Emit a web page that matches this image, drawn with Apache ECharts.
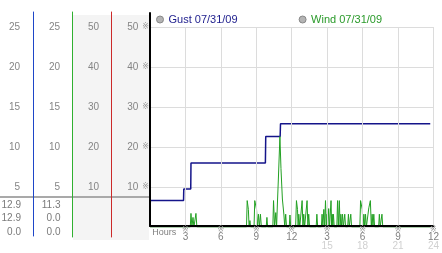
<!DOCTYPE html>
<html><head><meta charset="utf-8">
<script src="https://cdn.jsdelivr.net/npm/echarts/dist/echarts.min.js"></script>
<style>html,body{margin:0;padding:0;background:#fff}#c{width:442px;height:253px}</style>
</head><body><div id="c"></div>
<script>
// ---- data ----
const seriesNames = ['Gust 07/31/09', 'Wind 07/31/09'];
// [hour, value]
const gust = [
  [0, 1.8], [0.03, 3.3], [2.84, 3.3], [2.86, 4.75], [3.45, 4.75], [3.47, 8.0],
  [9.77, 8.0], [9.8, 11.3], [11.02, 11.3], [11.05, 12.9], [23.73, 12.9]
];
const wind = [
  [0, 0], [3.41, 0], [3.47, 1.7], [3.55, 0], [3.64, 1.2], [3.72, 0], [3.89, 1.7], [3.97, 0],
  [8.17, 0], [8.23, 3.3], [8.33, 2.2], [8.39, 0], [8.46, 0.8], [8.52, 0],
  [8.81, 0], [8.87, 3.3], [9.02, 2.2], [9.1, 0], [9.18, 1.6], [9.26, 0], [9.35, 1.6], [9.43, 0],
  [9.84, 0], [9.9, 1.2], [9.96, 0],
  [10.4, 0], [10.46, 3.3], [10.55, 0], [10.65, 1.8], [10.72, 0], [10.79, 3.0], [10.87, 6.0],
  [11.0, 11.3], [11.09, 7.3], [11.21, 3.5], [11.34, 1.5], [11.41, 0], [11.49, 1.6], [11.56, 0],
  [11.79, 0], [11.85, 1.5], [11.92, 0],
  [12.33, 0], [12.4, 3.3], [12.49, 2.2], [12.54, 0], [12.6, 1.6], [12.68, 0],
  [12.82, 0], [12.88, 3.3], [12.95, 0], [13.02, 1.6], [13.09, 0],
  [13.24, 0], [13.3, 3.3], [13.37, 0], [13.44, 1.6], [13.51, 0],
  [14.07, 0], [14.13, 1.6], [14.2, 0],
  [14.51, 0], [14.57, 1.6], [14.64, 0], [14.72, 2.2], [14.79, 0], [14.86, 3.3], [14.93, 0],
  [14.99, 1.6], [15.06, 0], [15.13, 2.3], [15.2, 0], [15.33, 3.3], [15.38, 0], [15.43, 1.6],
  [15.48, 0], [15.53, 1.6], [15.6, 0],
  [15.82, 0], [15.88, 3.3], [15.95, 0], [16.03, 3.3], [16.1, 0], [16.16, 1.6], [16.23, 0],
  [16.3, 1.6], [16.37, 0], [16.43, 0], [16.49, 1.6], [16.56, 0],
  [16.74, 0], [16.8, 1.6], [16.87, 0], [16.94, 0], [17.0, 1.6], [17.07, 0],
  [17.77, 0], [17.83, 3.3], [17.97, 2.2], [18.04, 0], [18.11, 1.6], [18.18, 0], [18.25, 1.6], [18.32, 0],
  [18.47, 0], [18.53, 2.4], [18.66, 3.3], [18.74, 0], [18.81, 1.6], [18.88, 0], [18.95, 1.6], [19.02, 0],
  [19.36, 0], [19.42, 1.6], [19.49, 0], [19.58, 0], [19.64, 1.6], [19.71, 0],
  [23.73, 0]
];
const gustStats = ['12.9', '12.9', '0.0'];
const windStats = ['11.3', '0.0', '0.0'];
const hourMin = 0, hourMax = 24, hourStep = 3;
const valMin = 0, valMax = 25, valStep = 5;

// ---- chart ----
const FONT = '"Liberation Sans", Arial, "DejaVu Sans", sans-serif';
const LBL = '#858585';
const chart = echarts.init(document.getElementById('c'), null, {renderer: 'canvas'});

function labelAxis(offset, margin, mult) {
  return {
    type: 'value', gridIndex: 0, position: 'left', offset: offset,
    min: valMin, max: valMax, interval: valStep,
    axisLine: {show: false, onZero: false}, axisTick: {show: false}, splitLine: {show: false},
    axisLabel: {margin: margin, color: LBL, fontSize: 10, fontFamily: FONT,
      formatter: v => v === 0 ? '' : String(v * mult)}
  };
}
// column separator lines: one small grid each
const colLines = [
  {x: 33, top: 12, bottom: 17, color: '#1e46c8', width: 1},
  {x: 72, top: 12, bottom: 16, color: '#30b030', width: 1},
  {x: 111, top: 12, bottom: 16, color: '#cc2a2a', width: 1},
  {x: 150, top: 13, bottom: 27, color: '#000000', width: 2}
];
const grids = [{left: 150, right: 3, top: 27, bottom: 26}];
const extraX = [], extraY = [];
colLines.forEach((c, i) => {
  grids.push({left: c.x, width: 1, top: c.top, bottom: c.bottom});
  extraX.push({type: 'value', gridIndex: i + 1, show: false, min: 0, max: 1});
  extraY.push({type: 'value', gridIndex: i + 1, position: 'left', min: 0, max: 1, z: 6,
    axisLine: {show: true, onZero: false, lineStyle: {color: c.color, width: c.width}},
    axisTick: {show: false}, axisLabel: {show: false}, splitLine: {show: false}});
});

const tableText = [];
gustStats.forEach((t, i) => tableText.push({type: 'text', z: 5, style: {text: t, x: 21, y: 205 + i * 13.5,
  fill: '#7a7a7a', font: '10px ' + FONT, align: 'right', textAlign: 'right', verticalAlign: 'middle', textVerticalAlign: 'middle'}}));
windStats.forEach((t, i) => tableText.push({type: 'text', z: 5, style: {text: t, x: 60.5, y: 205 + i * 13.5,
  fill: '#7a7a7a', font: '10px ' + FONT, align: 'right', textAlign: 'right', verticalAlign: 'middle', textVerticalAlign: 'middle'}}));

chart.setOption({
  animation: false,
  backgroundColor: '#fff',
  textStyle: {fontFamily: FONT},
  grid: grids,
  legend: {
    left: 156, top: 14, padding: 0, itemGap: 61, itemWidth: 7, itemHeight: 7, icon: 'circle',
    textStyle: {fontSize: 11, fontFamily: FONT},
    data: [
      {name: seriesNames[0], textStyle: {color: '#1c1c8c'}, itemStyle: {color: '#b4b4b4', borderColor: '#888', borderWidth: 1}},
      {name: seriesNames[1], textStyle: {color: '#2a9a2a'}, itemStyle: {color: '#b4b4b4', borderColor: '#888', borderWidth: 1}}
    ]
  },
  graphic: [
    {type: 'rect', z: -10, shape: {x: 73, y: 15, width: 76, height: 225}, style: {fill: '#f4f4f4'}},
    {type: 'rect', z: 4, shape: {x: 0, y: 196, width: 149, height: 2}, style: {fill: '#a9a9a9'}}
  ].concat(tableText),
  xAxis: [
    {
      type: 'value', gridIndex: 0, min: hourMin, max: hourMax, interval: hourStep, offset: -1, z: 3,
      axisLine: {onZero: false, lineStyle: {color: '#000', width: 2}},
      axisTick: {show: false},
      splitLine: {show: true, lineStyle: {color: '#dcdcdc', width: 1}},
      name: 'Hours', nameLocation: 'start', nameGap: -4,
      nameTextStyle: {align: 'left', verticalAlign: 'top', padding: [2, 0, 0, 0], color: '#808080', fontSize: 9, fontFamily: FONT},
      axisLabel: {
        margin: 1, fontFamily: FONT,
        formatter: v => {
          if (v === 0 || v % 3) return '';
          const h = v % 12 === 0 ? 12 : v % 12;
          return '{m|※}\n{a|' + h + '}' + (v > 12 ? '\n{b|' + v + '}' : '');
        },
        rich: {
          m: {fontSize: 8, lineHeight: 6, color: '#999', fontFamily: '"DejaVu Sans", sans-serif'},
          a: {fontSize: 10, lineHeight: 9, color: '#808080', fontFamily: FONT},
          b: {fontSize: 10, lineHeight: 9, color: '#d0d0d0', fontFamily: FONT}
        }
      }
    }
  ].concat(extraX),
  yAxis: [
    {
      type: 'value', gridIndex: 0, position: 'left', min: valMin, max: valMax, interval: valStep,
      axisLine: {show: false, onZero: false}, axisTick: {show: false},
      splitLine: {show: true, lineStyle: {color: '#dcdcdc', width: 1}},
      axisLabel: {
        margin: 1, fontFamily: FONT,
        formatter: v => v === 0 ? '' : '{v|' + (v * 2) + '}{m|※}',
        rich: {
          v: {fontSize: 10, color: LBL, padding: [0, 4, 0, 0], fontFamily: FONT},
          m: {fontSize: 8, color: '#999', fontFamily: '"DejaVu Sans", sans-serif'}
        }
      }
    },
    labelAxis(39, 12, 2),
    labelAxis(78, 12, 1),
    labelAxis(117, 13, 1)
  ].concat(extraY),
  series: [
    {name: seriesNames[0], type: 'line', xAxisIndex: 0, yAxisIndex: 0, data: gust, showSymbol: false, symbol: 'none',
      lineStyle: {color: '#14148a', width: 1.5}, itemStyle: {color: '#14148a'}, z: 2},
    {name: seriesNames[1], type: 'line', xAxisIndex: 0, yAxisIndex: 0, data: wind, showSymbol: false, symbol: 'none',
      lineStyle: {color: '#22a022', width: 1}, itemStyle: {color: '#22a022'}, z: 2}
  ]
});
</script></body></html>
